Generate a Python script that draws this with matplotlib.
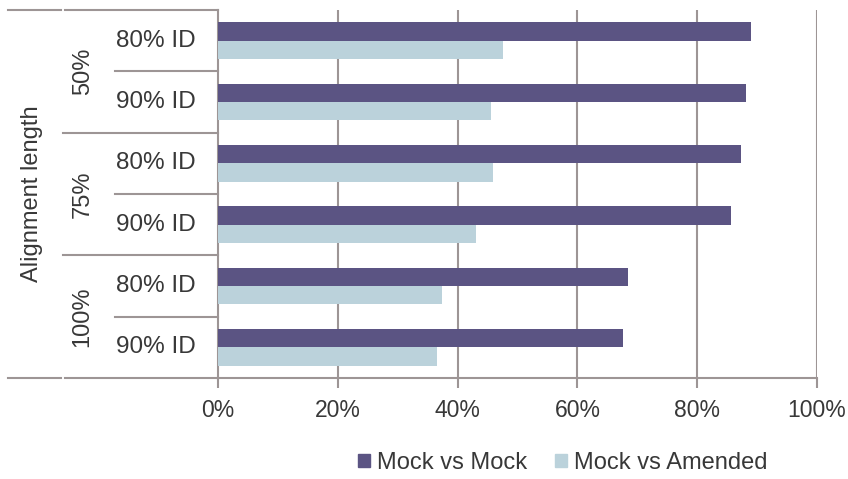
import numpy as np
import matplotlib.pyplot as plt
from matplotlib.transforms import blended_transform_factory

# categories, top to bottom
length_groups = ["50%", "75%", "100%"]
identity_levels = ["80% ID", "90% ID"]

mock_vs_mock = [89.0, 88.1, 87.3, 85.6, 68.4, 67.6]
mock_vs_amended = [47.6, 45.6, 45.9, 43.1, 37.4, 36.6]

xticks = [0, 20, 40, 60, 80, 100]
xtick_labels = ["0%", "20%", "40%", "60%", "80%", "100%"]

DARK = "#5b5483"
LIGHT = "#bbd2db"
LINE = "#9d9595"
TEXT = "#383838"

plt.rcParams["font.family"] = ["Liberation Sans", "DejaVu Sans"]

fig = plt.figure(figsize=(8.48, 4.79), dpi=100)
ax = fig.add_axes([218 / 848, 1 - 378 / 479, 599 / 848, 368 / 479])

n = len(mock_vs_mock)
y = np.arange(n)
h = 0.3
ax.barh(y - h / 2, mock_vs_mock, height=h, color=DARK, zorder=3)
ax.barh(y + h / 2, mock_vs_amended, height=h, color=LIGHT, zorder=3)

ax.set_xlim(0, 100)
ax.set_ylim(n - 0.5, -0.5)
ax.set_xticks(xticks)
ax.set_xticklabels(xtick_labels, fontsize=16.5, color=TEXT)
ax.tick_params(axis="x", length=7, width=1.5, color=LINE, pad=8)
ax.set_yticks([])
for x in xticks[1:]:
    ax.axvline(x, color=LINE, lw=1.5, zorder=1)

for side in ["top", "right"]:
    ax.spines[side].set_visible(False)
ax.spines["left"].set_color(LINE)
ax.spines["left"].set_linewidth(1.5)
ax.spines["bottom"].set_color(LINE)
ax.spines["bottom"].set_linewidth(1.5)

# multi-level category labels on the left
tr = blended_transform_factory(ax.transAxes, ax.transData)
x_outer, x_group, x_inner = -0.350, -0.259, -0.172
lw = 1.5
for b in range(n + 1):
    yb = b - 0.5
    if b in (0, n):
        ax.plot([x_outer, -0.262], [yb, yb], transform=tr, color=LINE, lw=lw, clip_on=False)
        ax.plot([-0.256, 0], [yb, yb], transform=tr, color=LINE, lw=lw, clip_on=False)
    elif b % 2 == 0:
        ax.plot([x_group, 0], [yb, yb], transform=tr, color=LINE, lw=lw, clip_on=False)
    else:
        ax.plot([x_inner, 0], [yb, yb], transform=tr, color=LINE, lw=lw, clip_on=False)

for i in range(n):
    ax.text(-0.104, i, identity_levels[i % 2], transform=tr, ha="center", va="center",
            fontsize=17.5, color=TEXT)
for g, lab in enumerate(length_groups):
    ax.text(-0.226, 2 * g + 0.5, lab, transform=tr, ha="center", va="center",
            rotation=90, fontsize=17, color=TEXT)
ax.text(-0.311, (n - 1) / 2, "Alignment length", transform=tr, ha="center", va="center",
        rotation=90, fontsize=17, color=TEXT)

handles = [plt.Rectangle((0, 0), 1, 1, color=DARK), plt.Rectangle((0, 0), 1, 1, color=LIGHT)]
fig.legend(handles, ["Mock vs Mock", "Mock vs Amended"], loc="center",
           bbox_to_anchor=(563 / 848, 1 - 463 / 479), ncol=2, frameon=False,
           fontsize=17, labelcolor=TEXT, handlelength=0.5, handleheight=0.5,
           handletextpad=0.3, columnspacing=1.2)

fig.savefig("out.png", dpi=100)
